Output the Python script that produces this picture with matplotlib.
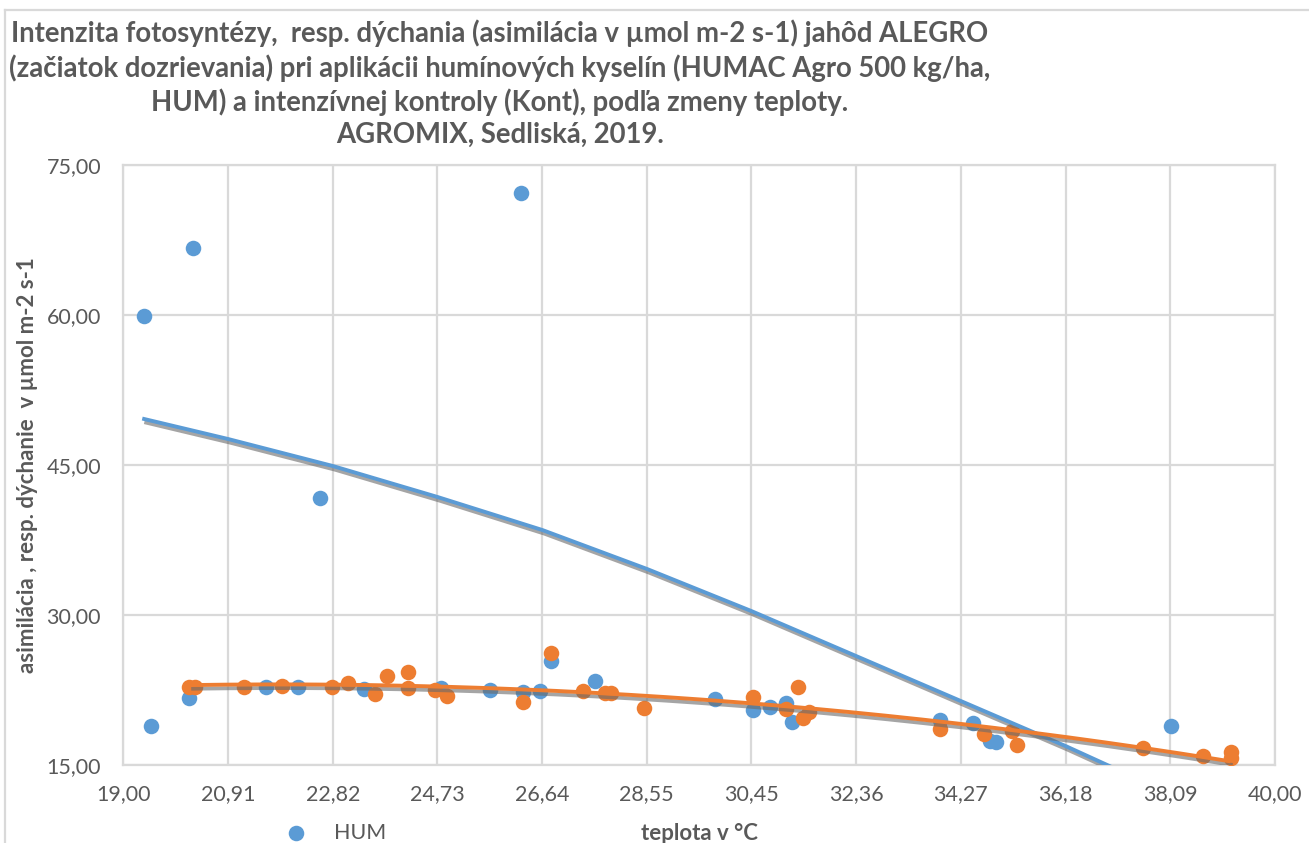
import numpy as np
import matplotlib
matplotlib.use("Agg")
import matplotlib.pyplot as plt
import matplotlib.patheffects as pe
from matplotlib.lines import Line2D

# ── data ──────────────────────────────────────────────────────────────────────
hum_t = [19.38, 19.50, 20.20, 20.27, 21.60, 22.18, 22.59, 23.39, 24.80, 25.69,
         26.26, 26.29, 26.60, 26.80, 27.60, 29.79, 30.49, 30.79, 31.09, 31.19,
         33.89, 34.50, 34.80, 34.91, 38.10]
hum_a = [59.9, 18.9, 21.7, 66.7, 22.8, 22.8, 41.7, 22.6, 22.7, 22.5,
         72.2, 22.3, 22.4, 25.4, 23.4, 21.6, 20.5, 20.8, 21.2, 19.3,
         19.5, 19.2, 17.4, 17.3, 18.9]

kont_t = [20.20, 20.31, 21.20, 21.90, 22.80, 23.09, 23.59, 23.80, 24.20, 24.20,
          24.68, 24.90, 26.29, 26.80, 27.39, 27.78, 27.90, 28.50, 30.49, 31.09,
          31.30, 31.39, 31.51, 33.89, 34.70, 35.20, 35.29, 37.59, 38.69, 39.19,
          39.19]
kont_a = [22.8, 22.8, 22.8, 22.9, 22.8, 23.2, 22.1, 23.9, 24.3, 22.7,
          22.5, 21.9, 21.3, 26.2, 22.4, 22.2, 22.2, 20.7, 21.8, 20.6,
          22.8, 19.7, 20.3, 18.6, 18.1, 18.4, 17.0, 16.7, 15.9, 16.3,
          15.7]

# HUM trendline as drawn in the original (part of its data lies off the chart,
# so it is read from the picture instead of refitted)
hum_trend_t = [19.38, 20.91, 22.82, 24.73, 26.64, 28.55, 30.45, 32.36, 34.27, 36.18, 37.10]
hum_trend_a = [49.6, 47.6, 44.9, 41.8, 38.5, 34.6, 30.4, 25.9, 21.4, 16.9, 14.6]

x_ticks = np.linspace(19.0, 40.0, 12)
y_ticks = [15, 30, 45, 60, 75]

title_lines = [
    "Intenzita fotosyntézy,  resp. dýchania (asimilácia v µmol m-2 s-1) jahôd ALEGRO",
    "(začiatok dozrievania) pri aplikácii humínových kyselín (HUMAC Agro 500 kg/ha,",
    "HUM) a intenzívnej kontroly (Kont), podľa zmeny teploty.",
    "AGROMIX, Sedliská, 2019.",
]

BLUE = "#5B9BD5"
ORANGE = "#ED7D31"
GRID = "#D9D9D9"
TEXT = "#595959"

plt.rcParams["font.family"] = ["Lato", "DejaVu Sans"]

W, H = 1309, 843
fig = plt.figure(figsize=(W / 100, H / 100), dpi=100)
ax = fig.add_axes([123.3 / W, 1 - 765 / H, (1275 - 123.3) / W, 600 / H])

# chart frame (cut off at right and bottom in the reference)
fig.add_artist(Line2D([5 / W, 5 / W], [0, 1 - 10 / H], color=GRID, lw=1.6,
                      transform=fig.transFigure))
fig.add_artist(Line2D([5 / W, 1], [1 - 10 / H, 1 - 10 / H], color=GRID, lw=1.6,
                      transform=fig.transFigure))

hum_sc = ax.scatter(hum_t, hum_a, s=125, color=BLUE, zorder=3, linewidths=0)
ax.scatter(kont_t, kont_a, s=125, color=ORANGE, zorder=4, linewidths=0)

shadow = [pe.SimpleLineShadow(offset=(1.5, -2.6), shadow_color="#6a6a6a", alpha=0.6),
          pe.Normal()]

ax.plot(hum_trend_t, hum_trend_a, color=BLUE, lw=2.8, zorder=5,
        solid_joinstyle="round", path_effects=shadow)

# 2nd order polynomial trendline for the control
coef = np.polyfit(kont_t, kont_a, 2)
xs = np.linspace(min(kont_t), max(kont_t), 200)
ax.plot(xs, np.polyval(coef, xs), color=ORANGE, lw=2.8, zorder=6,
        solid_capstyle="butt", path_effects=shadow)

ax.set_xlim(19, 40)
ax.set_ylim(15, 75)
ax.set_xticks(x_ticks)
ax.set_xticklabels([f"{v:.2f}".replace(".", ",") for v in x_ticks])
ax.set_yticks(y_ticks)
ax.set_yticklabels([f"{v:.2f}".replace(".", ",") for v in y_ticks])
ax.grid(True, color=GRID, lw=1.6, zorder=0)
ax.set_axisbelow(True)
for s in ax.spines.values():
    s.set_color(GRID)
    s.set_linewidth(1.6)
ax.tick_params(length=0, labelsize=15.5, colors=TEXT)
ax.tick_params(axis="y", pad=16)
ax.tick_params(axis="x", pad=14)

ax.set_ylabel("asimilácia , resp. dýchanie  v µmol m-2 s-1", fontsize=16,
              fontweight="bold", color=TEXT)
ax.yaxis.set_label_coords(-0.074, 0.5)
ax.set_xlabel("teplota v °C", fontsize=16, fontweight="bold", color=TEXT)
ax.xaxis.set_label_coords(0.5, -0.0967)

for line, ypx in zip(title_lines, [33, 68, 102, 135]):
    fig.text(500 / W, 1 - ypx / H, line, ha="center", va="center",
             fontsize=19.8, fontweight="bold", color=TEXT)

fig.legend([hum_sc], ["HUM"], loc="center left", bbox_to_anchor=(285 / W, 1 - 833 / H),
           frameon=False, fontsize=15.5, labelcolor=TEXT, handlelength=1.0,
           handletextpad=1.28, borderpad=0, borderaxespad=0, markerscale=1.0)

fig.savefig("out.png", dpi=100, facecolor="white")
